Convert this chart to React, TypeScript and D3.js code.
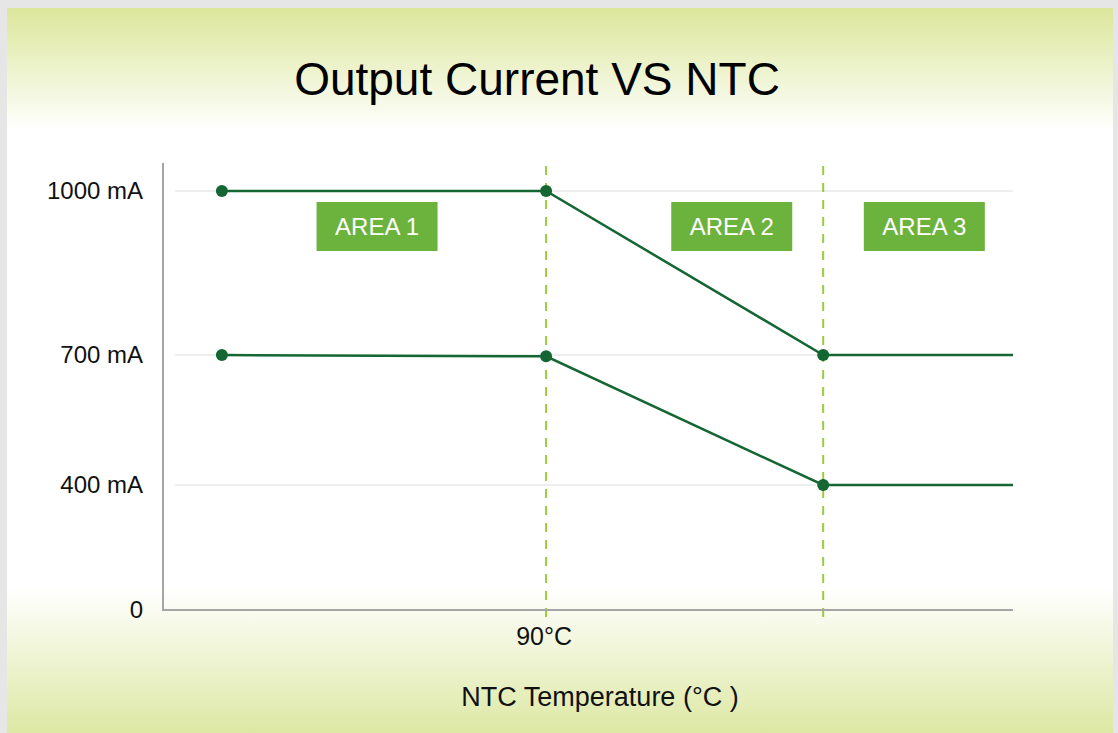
import * as d3 from 'd3';

// NTC temperature (°C), estimated positions; only 90 °C is labelled
const temps = [66.6, 90, 110, 123.7];
const highCurrent = [1000, 1000, 700, 700];
const lowCurrent = [700, 697, 400, 400];
const dotCount = 3; // last point of each series has no marker

const yTicks = [0, 400, 700, 1000];
const yTickLabels = ['0', '400 mA', '700 mA', '1000 mA'];
const gridValues = [400, 700, 1000];

const breakTemps = [90, 110];
const xTickTemps = [90];
const xTickLabels = ['90°C'];

const areaLabels = ['AREA 1', 'AREA 2', 'AREA 3'];
const areaCenters = [77.8, 103.4, 117.3];

const W = 1118;
const H = 733;
const FONT = '"Liberation Sans", Arial, sans-serif';
const LINE = '#146632';
const DASH = '#9ccb3c';
const BOX = '#6cb33e';

export default function App() {
  const x = d3.scaleLinear().domain([62.35, 123.7]).range([163, 1013]);
  // piecewise axis as in the original (non-uniform spacing)
  const y = d3.scaleLinear().domain([0, 400, 700, 1000]).range([610, 485, 355, 191]);

  const line = d3.line<number>().x((_, i) => x(temps[i])).y(d => y(d));
  const series = [highCurrent, lowCurrent];

  return (
    <svg width={W} height={H} style={{ position: 'absolute', left: 0, top: 0 }}>
      <defs>
        <linearGradient id="bg" x1="0" y1="0" x2="0" y2="1">
          <stop offset="0" stopColor="#dce79b" />
          <stop offset="0.17" stopColor="#ffffff" />
          <stop offset="0.8" stopColor="#ffffff" />
          <stop offset="1" stopColor="#dde8a4" />
        </linearGradient>
      </defs>
      <rect x={0} y={0} width={W} height={H} fill="#e6e6e6" />
      <rect x={7} y={8} width={1106} height={H - 8} fill="url(#bg)" />

      <text x={537} y={95} textAnchor="middle" fontFamily={FONT} fontSize={46} fill="#000">
        Output Current VS NTC
      </text>

      {gridValues.map(v => (
        <line key={v} x1={175} x2={1013} y1={y(v)} y2={y(v)} stroke="#e9e9e9" strokeWidth={1.5} />
      ))}

      {breakTemps.map(t => (
        <line key={t} x1={x(t)} x2={x(t)} y1={166} y2={618} stroke={DASH} strokeWidth={2} strokeDasharray="9,8" />
      ))}

      <line x1={163} x2={163} y1={163} y2={611} stroke="#a5a5a5" strokeWidth={2} />
      <line x1={162} x2={1013} y1={610} y2={610} stroke="#a5a5a5" strokeWidth={2} />

      {yTicks.map((v, i) => (
        <text key={v} x={143} y={y(v)} dy="0.35em" textAnchor="end" fontFamily={FONT} fontSize={24} fill="#111">
          {yTickLabels[i]}
        </text>
      ))}

      {xTickTemps.map((t, i) => (
        <text key={t} x={x(t) - 2} y={636} dy="0.35em" textAnchor="middle" fontFamily={FONT} fontSize={25} fill="#111">
          {xTickLabels[i]}
        </text>
      ))}

      <text x={600} y={697} dy="0.35em" textAnchor="middle" fontFamily={FONT} fontSize={27} fill="#111">
        NTC Temperature (°C )
      </text>

      {areaLabels.map((label, i) => (
        <g key={label} transform={`translate(${x(areaCenters[i])},227)`}>
          <rect x={-60.5} y={-25} width={121} height={49} fill={BOX} />
          <text y={0} dy="0.35em" textAnchor="middle" fontFamily={FONT} fontSize={24} fill="#fff">
            {label}
          </text>
        </g>
      ))}

      {series.map((s, k) => (
        <g key={k}>
          <path d={line(s) ?? ''} fill="none" stroke={LINE} strokeWidth={2.5} />
          {s.slice(0, dotCount).map((v, i) => (
            <circle key={i} cx={x(temps[i])} cy={y(v)} r={6} fill={LINE} />
          ))}
        </g>
      ))}
    </svg>
  );
}
